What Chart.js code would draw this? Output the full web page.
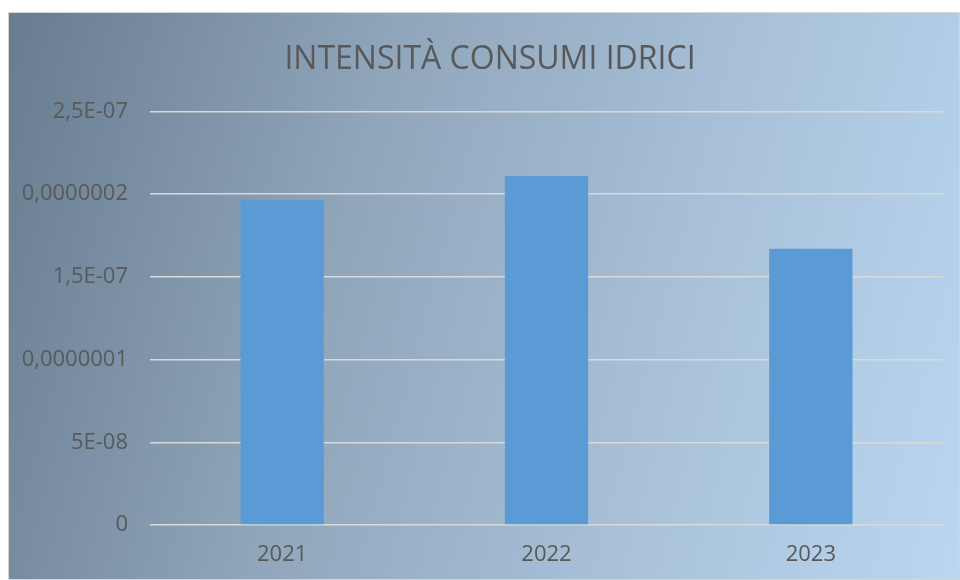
<!DOCTYPE html>
<html>
<head>
<meta charset="utf-8">
<script src="https://cdn.jsdelivr.net/npm/chart.js@4"></script>
<style>
  html, body { margin: 0; padding: 0; background: #fff; }
  #box {
    position: absolute; left: 8px; top: 12px;
    width: 952px; height: 568px; box-sizing: border-box;
    border: 1px solid #d4d4d4;
    background: linear-gradient(105deg, #687c90 0%, #8fa5ba 35%, #a9c2da 70%, #bad6f0 100%);
  }
  #box canvas { display: block; }
</style>
</head>
<body>
<div id="box"><canvas id="chart" width="950" height="566"></canvas></div>
<script>
const years = ["2021", "2022", "2023"];
const intensity = [1.963e-7, 2.110e-7, 1.670e-7];
const yTickLabels = ["0", "5E-08", "0,0000001", "1,5E-07", "0,0000002", "2,5E-07"];

const FONT = '"Open Sans", sans-serif';

// the title sits a bit right of the canvas centre in the original
const nudgeTitle = {
  id: "nudgeTitle",
  afterLayout(chart) {
    const t = chart.titleBlock;
    if (t) { t.left += 14; t.right += 14; }
  }
};

const ctx = document.getElementById("chart").getContext("2d");
new Chart(ctx, {
  type: "bar",
  data: {
    labels: years,
    datasets: [{
      label: "Intensità",
      data: intensity,
      backgroundColor: "#5b9bd5",
      borderWidth: 0,
      categoryPercentage: 1,
      barPercentage: 0.315,
    }]
  },
  options: {
    responsive: false,
    animation: false,
    layout: { padding: { left: 0, right: 16, top: 0, bottom: 0 } },
    plugins: {
      legend: { display: false },
      tooltip: { enabled: false },
      title: {
        display: true,
        text: "INTENSITÀ CONSUMI IDRICI",
        color: "#595959",
        font: { family: FONT, size: 32, weight: "normal" },
        padding: { top: 28, bottom: 32 }
      }
    },
    scales: {
      x: {
        afterFit: (scale) => { scale.height = 54; },
        grid: { display: false },
        border: { display: false },
        ticks: { color: "#595959", font: { family: FONT, size: 22 }, padding: 9 }
      },
      y: {
        min: 0,
        max: 2.5e-7,
        afterFit: (scale) => { scale.width = 141; },
        afterBuildTicks: (scale) => {
          scale.ticks = yTickLabels.map((_, i) => ({ value: i * 5e-8 }));
        },
        grid: { color: "#d9d9d9", lineWidth: 1.5, drawTicks: false },
        border: { display: false },
        ticks: {
          color: "#595959",
          font: { family: FONT, size: 22 },
          padding: 22,
          callback: (v, i) => yTickLabels[i]
        }
      }
    }
  },
  plugins: [nudgeTitle]
});
</script>
</body>
</html>
